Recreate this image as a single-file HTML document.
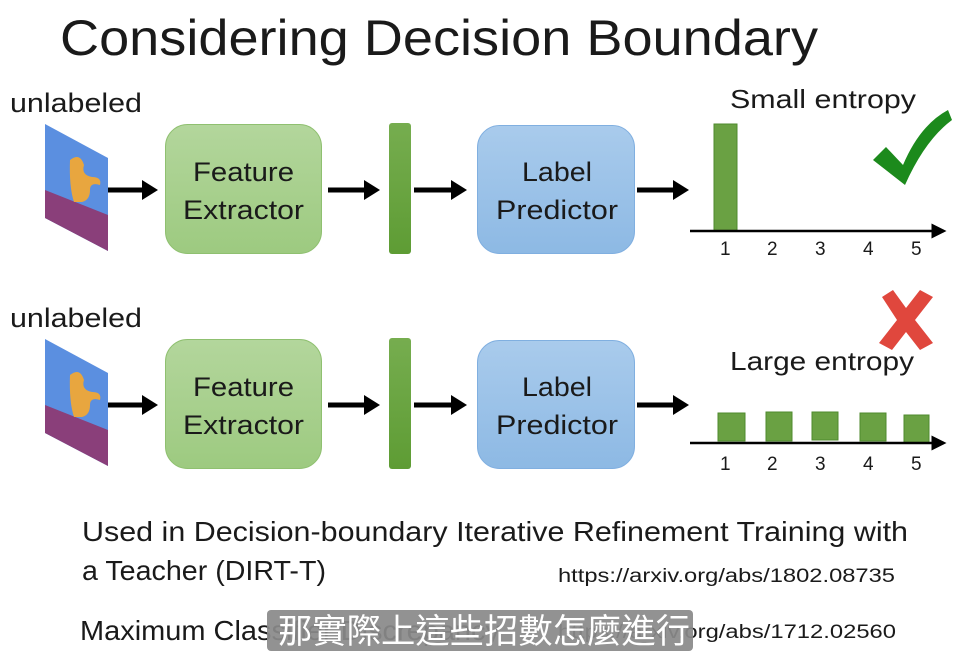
<!DOCTYPE html>
<html><head><meta charset="utf-8"><style>
html,body{margin:0;padding:0;background:#fff;width:953px;height:651px;overflow:hidden}
svg{display:block}
text{font-family:"Liberation Sans","Noto Sans CJK TC",sans-serif;fill:#1a1a1a}
</style></head><body>
<svg width="953" height="651" viewBox="0 0 953 651" xmlns="http://www.w3.org/2000/svg">
<defs>
<linearGradient id="g" x1="0" y1="0" x2="0" y2="1"><stop offset="0" stop-color="#b3d69c"/><stop offset="1" stop-color="#9dca80"/></linearGradient>
<linearGradient id="b" x1="0" y1="0" x2="0" y2="1"><stop offset="0" stop-color="#a9cbec"/><stop offset="1" stop-color="#8db9e4"/></linearGradient>
<linearGradient id="bar" x1="0" y1="0" x2="0" y2="1"><stop offset="0" stop-color="#76ad4f"/><stop offset="1" stop-color="#5e9c34"/></linearGradient>
<marker id="ah" markerWidth="4" markerHeight="4" refX="2" refY="2" orient="auto" markerUnits="strokeWidth"><path d="M0,0 L3.2,2 L0,4 z" fill="#000"/></marker>
<marker id="ax" markerWidth="6" markerHeight="6" refX="5" refY="3" orient="auto" markerUnits="strokeWidth"><path d="M0,0 L6,3 L0,6 z" fill="#000"/></marker>
<g id="row">
<polygon points="45,124 108,158 108,251 45,218" fill="#5b8fe0"/>
<polygon points="45,190 108,215 108,251 45,218" fill="#8a3f7a"/>
<path d="M70,160 q10,-8 14,5 q-3,10 8,12 q10,0 8,8 q-10,-3 -10,5 q0,10 -8,12 l-8,0 q-5,-15 -4,-42z" fill="#e8a63f"/>
<line x1="108" y1="190" x2="152" y2="190" stroke="#000" stroke-width="5" marker-end="url(#ah)"/>
<rect x="165.5" y="124.5" width="156" height="129" rx="22" fill="url(#g)" stroke="#8fc070"/>
<line x1="328" y1="190" x2="374" y2="190" stroke="#000" stroke-width="5" marker-end="url(#ah)"/>
<rect x="389" y="123" width="22" height="131" rx="3" fill="url(#bar)"/>
<line x1="414" y1="190" x2="461" y2="190" stroke="#000" stroke-width="5" marker-end="url(#ah)"/>
<rect x="477.5" y="125.5" width="157" height="128" rx="22" fill="url(#b)" stroke="#80afe0"/>
<line x1="637" y1="190" x2="683" y2="190" stroke="#000" stroke-width="5" marker-end="url(#ah)"/>
<text x="10" y="112" font-size="27" textLength="132" lengthAdjust="spacingAndGlyphs">unlabeled</text>
<text x="193" y="181" font-size="27" textLength="101" lengthAdjust="spacingAndGlyphs">Feature</text>
<text x="183" y="219" font-size="27" textLength="121" lengthAdjust="spacingAndGlyphs">Extractor</text>
<text x="522" y="181" font-size="27" textLength="70" lengthAdjust="spacingAndGlyphs">Label</text>
<text x="496" y="219" font-size="27" textLength="122" lengthAdjust="spacingAndGlyphs">Predictor</text>
</g>
</defs>
<text x="60" y="55" font-size="50" textLength="758" lengthAdjust="spacingAndGlyphs" fill="#222">Considering Decision Boundary</text>
<use href="#row"/>
<use href="#row" y="215"/>
<text x="730" y="108" font-size="26" textLength="186" lengthAdjust="spacingAndGlyphs">Small entropy</text>
<rect x="714" y="124" width="23" height="107" fill="#6aa143" stroke="#4f8a2e"/>
<line x1="690" y1="231" x2="944" y2="231" stroke="#000" stroke-width="2.5" marker-end="url(#ax)"/>
<g font-size="19"><text x="720" y="255">1</text><text x="767" y="255">2</text><text x="815" y="255">3</text><text x="863" y="255">4</text><text x="911" y="255">5</text></g>
<path d="M873,160 L886,147 L903,165 Q920,125 948,110 L952,120 Q925,140 905,185 Z" fill="#1c8a1c"/>
<path d="M882,297 L893,290 L906,308 L920,290 L933,297 L915,320 L933,343 L920,350 L906,332 L892,350 L879,343 L897,320 Z" fill="#e0473d"/>
<text x="730" y="370" font-size="26" textLength="184" lengthAdjust="spacingAndGlyphs">Large entropy</text>
<g fill="#6aa143" stroke="#4f8a2e"><rect x="718" y="413" width="27" height="28"/><rect x="766" y="412" width="26" height="29"/><rect x="812" y="412" width="26" height="28"/><rect x="860" y="413" width="26" height="28"/><rect x="904" y="415" width="25" height="28"/></g>
<line x1="690" y1="443" x2="944" y2="443" stroke="#000" stroke-width="2.5" marker-end="url(#ax)"/>
<g font-size="19"><text x="720" y="470">1</text><text x="767" y="470">2</text><text x="815" y="470">3</text><text x="863" y="470">4</text><text x="911" y="470">5</text></g>
<text x="82" y="541" font-size="28" textLength="826" lengthAdjust="spacingAndGlyphs">Used in Decision-boundary Iterative Refinement Training with</text>
<text x="82" y="580" font-size="28" textLength="244" lengthAdjust="spacingAndGlyphs">a Teacher (DIRT-T)</text>
<text x="558" y="582" font-size="19" textLength="337" lengthAdjust="spacingAndGlyphs">https://arxiv.org/abs/1802.08735</text>
<text x="80" y="640" font-size="28" textLength="420" lengthAdjust="spacingAndGlyphs">Maximum Classifier Discrepancy</text>
<text x="558" y="638" font-size="19" textLength="338" lengthAdjust="spacingAndGlyphs">https://arxiv.org/abs/1712.02560</text>
<rect x="267" y="610" width="426" height="41" rx="4" fill="#8a8a8a" fill-opacity="0.93"/>
<text x="278" y="643" font-size="34" style="fill:#fff" textLength="412" lengthAdjust="spacingAndGlyphs">那實際上這些招數怎麼進行</text>
</svg>
</body></html>
